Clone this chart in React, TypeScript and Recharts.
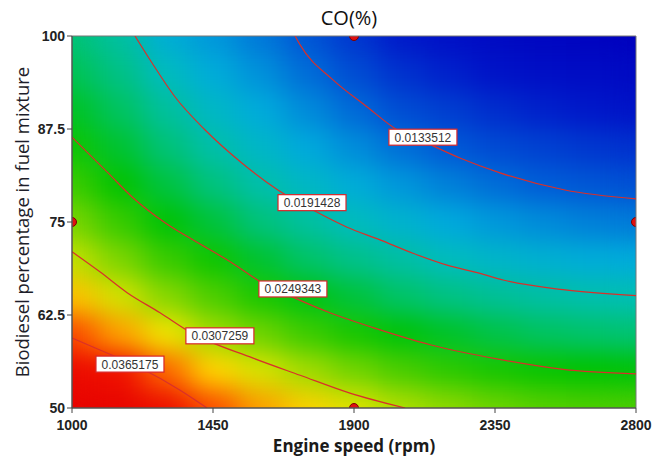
import React from 'react';
import {
  ComposedChart, XAxis, YAxis, Line, ReferenceArea, ReferenceDot,
  useXAxisScale, useYAxisScale,
} from 'recharts';

// grid of the colour map: engine speed (rpm) columns, biodiesel % rows
const speeds = [1000, 1150, 1300, 1450, 1600, 1750, 1900, 2050, 2200, 2350, 2500, 2650, 2800];
const blends = [50, 55, 60, 65, 70, 75, 80, 85, 90, 95, 100];

// CO (%), one row per blend level (bottom to top)
const co50 = [0.0418, 0.0411, 0.0392, 0.0362, 0.0346, 0.0332, 0.0319, 0.0307, 0.0298, 0.0289, 0.0283, 0.0280, 0.0279];
const co55 = [0.0391, 0.0377, 0.0355, 0.0331, 0.0316, 0.0302, 0.0289, 0.0278, 0.0267, 0.0259, 0.0253, 0.0249, 0.0247];
const co60 = [0.0362, 0.0345, 0.0322, 0.0302, 0.0288, 0.0273, 0.0259, 0.0247, 0.0239, 0.0231, 0.0225, 0.0222, 0.0219];
const co65 = [0.0337, 0.0315, 0.0295, 0.0279, 0.0260, 0.0245, 0.0234, 0.0223, 0.0213, 0.0205, 0.0199, 0.0195, 0.0192];
const co70 = [0.0312, 0.0292, 0.0272, 0.0255, 0.0237, 0.0223, 0.0210, 0.0199, 0.0188, 0.0181, 0.0176, 0.0172, 0.0170];
const co75 = [0.0292, 0.0271, 0.0248, 0.0234, 0.0216, 0.0201, 0.0187, 0.0178, 0.0169, 0.0161, 0.0155, 0.0150, 0.0147];
const co80 = [0.0274, 0.0250, 0.0233, 0.0215, 0.0196, 0.0183, 0.0172, 0.0160, 0.0150, 0.0141, 0.0134, 0.0131, 0.0128];
const co85 = [0.0255, 0.0237, 0.0218, 0.0197, 0.0182, 0.0169, 0.0156, 0.0142, 0.0132, 0.0126, 0.0122, 0.0118, 0.0115];
const co90 = [0.0241, 0.0225, 0.0202, 0.0183, 0.0170, 0.0155, 0.0140, 0.0127, 0.0121, 0.0114, 0.0109, 0.0105, 0.0102];
const co95 = [0.0229, 0.0212, 0.0187, 0.0171, 0.0158, 0.0141, 0.0127, 0.0116, 0.0109, 0.0102, 0.0096, 0.0092, 0.0089];
const co100 = [0.0218, 0.0200, 0.0173, 0.0160, 0.0146, 0.0130, 0.0117, 0.0105, 0.0097, 0.0090, 0.0084, 0.0080, 0.0076];
const coRows = [co50, co55, co60, co65, co70, co75, co80, co85, co90, co95, co100];

// contour lines (rpm, %)
const contourA = [{ x: 1000, y: 59.4 }, { x: 1089, y: 57.8 }, { x: 1217, y: 55.4 }, { x: 1345, y: 52.4 }, { x: 1431, y: 50 }];
const contourB = [
  { x: 1000, y: 71.0 }, { x: 1089, y: 68.3 }, { x: 1176, y: 65.5 }, { x: 1281, y: 62.8 }, { x: 1377, y: 60.2 },
  { x: 1578, y: 56.7 }, { x: 1728, y: 54.4 }, { x: 1887, y: 52.0 }, { x: 2063, y: 50 },
];
const contourC = [
  { x: 1000, y: 86.4 }, { x: 1115, y: 81.6 }, { x: 1191, y: 78.4 }, { x: 1297, y: 74.9 }, { x: 1402, y: 72.2 },
  { x: 1511, y: 69.5 }, { x: 1600, y: 67.0 }, { x: 1705, y: 64.9 }, { x: 1823, y: 62.8 }, { x: 1961, y: 60.8 },
  { x: 2143, y: 58.5 }, { x: 2356, y: 56.6 }, { x: 2567, y: 55.2 }, { x: 2800, y: 54.6 },
];
const contourD = [
  { x: 1201, y: 100 }, { x: 1255, y: 96.4 }, { x: 1329, y: 91.8 }, { x: 1424, y: 87.4 }, { x: 1543, y: 82.9 },
  { x: 1657, y: 79.3 }, { x: 1769, y: 76.6 }, { x: 1878, y: 74.3 }, { x: 1983, y: 72.6 }, { x: 2088, y: 70.8 },
  { x: 2197, y: 69.2 }, { x: 2302, y: 68.1 }, { x: 2376, y: 67.2 }, { x: 2567, y: 65.9 }, { x: 2800, y: 65.1 },
];
const contourE = [
  { x: 1712, y: 100 }, { x: 1728, y: 98.8 }, { x: 1833, y: 94.1 }, { x: 1941, y: 90.5 }, { x: 2037, y: 87.4 },
  { x: 2133, y: 85.6 }, { x: 2238, y: 83.6 }, { x: 2366, y: 81.6 }, { x: 2573, y: 79.3 }, { x: 2800, y: 78.1 },
];
const contours = [contourA, contourB, contourC, contourD, contourE];

const contourLabels = [
  { text: '0.0365175', x: 1185, y: 55.9 },
  { text: '0.0307259', x: 1472, y: 59.7 },
  { text: '0.0249343', x: 1705, y: 66.0 },
  { text: '0.0191428', x: 1766, y: 77.6 },
  { text: '0.0133512', x: 2120, y: 86.4 },
];

const designPoints = [{ x: 1000, y: 75 }, { x: 2800, y: 75 }, { x: 1900, y: 100 }, { x: 1900, y: 50 }];

const xTicks = [1000, 1450, 1900, 2350, 2800];
const yTicks = [50, 62.5, 75, 87.5, 100];

const V_MIN = 0.00756;
const V_MAX = 0.04231;

// blue -> cyan -> green -> yellow -> red
const stops: [number, number[]][] = [
  [0, [0, 0, 190]],
  [0.08, [0, 20, 200]],
  [0.17, [0, 95, 215]],
  [0.27, [0, 170, 220]],
  [0.33, [0, 190, 185]],
  [0.42, [0, 195, 110]],
  [0.5, [0, 195, 0]],
  [0.58, [70, 205, 0]],
  [0.667, [180, 222, 0]],
  [0.72, [255, 230, 0]],
  [0.77, [255, 170, 0]],
  [0.82, [250, 75, 0]],
  [0.87, [238, 15, 0]],
  [1, [230, 0, 0]],
];

function colourFor(v: number) {
  const t = Math.max(0, Math.min(1, (v - V_MIN) / (V_MAX - V_MIN)));
  for (let i = 1; i < stops.length; i++) {
    const [t1, c1] = stops[i];
    const [t0, c0] = stops[i - 1];
    if (t <= t1) {
      const f = (t - t0) / (t1 - t0);
      const c = c0.map((a, k) => Math.round(a + (c1[k] - a) * f));
      return `rgb(${c[0]},${c[1]},${c[2]})`;
    }
  }
  return 'rgb(230,0,0)';
}

const cells = blends.flatMap((b, r) =>
  speeds.map((s, c) => ({
    x1: Math.max(speeds[0], s - 75),
    x2: Math.min(speeds[speeds.length - 1], s + 75),
    y1: Math.max(blends[0], b - 2.5),
    y2: Math.min(blends[blends.length - 1], b + 2.5),
    fill: colourFor(coRows[r][c]),
  }))
);

const toPx = (scale: any, v: number) => (typeof scale === 'function' ? scale(v) : scale.map(v));

// colour map cells, smoothed by one filter over the whole layer
function HeatLayer() {
  const xs = useXAxisScale();
  const ys = useYAxisScale();
  if (!xs || !ys) return null;
  return (
    <g filter="url(#heatSmooth)">
      {cells.map((c, i) => {
        const left = toPx(xs, c.x1);
        const right = toPx(xs, c.x2);
        const top = toPx(ys, c.y2);
        const bottom = toPx(ys, c.y1);
        return (
          <rect key={i} x={left} y={top} width={right - left} height={bottom - top} fill={c.fill}
            shapeRendering="crispEdges" />
        );
      })}
    </g>
  );
}

// design points sit on the frame; only the inner half shows
function DesignPoints() {
  const xs = useXAxisScale();
  const ys = useYAxisScale();
  if (!xs || !ys) return null;
  const left = toPx(xs, speeds[0]);
  const right = toPx(xs, speeds[speeds.length - 1]);
  const top = toPx(ys, blends[blends.length - 1]);
  const bottom = toPx(ys, blends[0]);
  return (
    <g>
      <defs>
        <clipPath id="designClip">
          <rect x={left} y={top} width={right - left} height={bottom - top} />
        </clipPath>
      </defs>
      <g clipPath="url(#designClip)">
        {designPoints.map((p, i) => (
          <circle key={i} cx={toPx(xs, p.x)} cy={toPx(ys, p.y)} r={4.5} fill="#e01010" stroke="#7a0000" strokeWidth={1} />
        ))}
      </g>
    </g>
  );
}

const LabelBox = (props: any) => {
  const { cx, cy, text } = props;
  return (
    <g>
      <rect x={cx - 34} y={cy - 8} width={68} height={16} fill="#fff" stroke="#d8262a" strokeWidth={1.2} />
      <text x={cx} y={cy + 4.5} textAnchor="middle" fontSize={12} fill="#333" fontFamily="Liberation Sans, Arial, sans-serif">
        {text}
      </text>
    </g>
  );
};

const xTitle = (props: any) => {
  const { viewBox } = props;
  return (
    <text x={viewBox.x + viewBox.width / 2} y={viewBox.y + 44} textAnchor="middle" fontSize={17} fontWeight={700}
      fill="#1a1a1a" fontFamily="Open Sans, sans-serif">
      Engine speed (rpm)
    </text>
  );
};

const yTitle = (props: any) => {
  const { viewBox } = props;
  const cy = viewBox.y + viewBox.height / 2;
  return (
    <text x={29} y={cy} transform={`rotate(-90, 29, ${cy})`} textAnchor="middle" fontSize={18.5}
      fill="#1e1e2a" fontFamily="Open Sans, sans-serif">
      Biodiesel percentage in fuel mixture
    </text>
  );
};

const tickStyle = { fontSize: 14, fontWeight: 700, fill: '#222', fontFamily: 'Liberation Sans, Arial, sans-serif' };

export default function App() {
  return (
    <div style={{ position: 'relative', width: 665, height: 459, background: '#fff' }}>
      <style>{'body{margin:0}'}</style>
      <svg width={0} height={0} style={{ position: 'absolute' }}>
        <defs>
          <filter id="heatSmooth" colorInterpolationFilters="sRGB">
            <feGaussianBlur in="SourceGraphic" stdDeviation="15 12" result="blur" />
            <feComponentTransfer in="blur" result="solid">
              <feFuncA type="linear" slope={40} />
            </feComponentTransfer>
            <feComponentTransfer in="SourceAlpha" result="mask">
              <feFuncA type="linear" slope={40} />
            </feComponentTransfer>
            <feComposite in="solid" in2="mask" operator="in" />
          </filter>
        </defs>
      </svg>
      <div style={{ position: 'absolute', left: 300, top: 4, width: 98, textAlign: 'center', fontSize: 20,
        fontFamily: 'Open Sans, sans-serif', color: '#111', zIndex: 2 }}>
        CO(%)
      </div>
      <ComposedChart width={665} height={459} margin={{ top: 36, right: 29, bottom: 0, left: 0 }}>
        <XAxis type="number" dataKey="x" domain={[1000, 2800]} ticks={xTicks} allowDataOverflow height={51}
          tick={tickStyle} tickSize={5} tickMargin={7} stroke="#444" label={{ content: xTitle }} />
        <YAxis type="number" dataKey="y" domain={[50, 100]} ticks={yTicks} allowDataOverflow width={72}
          tick={tickStyle} tickSize={5} stroke="#444" label={{ content: yTitle }} />
        <HeatLayer />
        <ReferenceArea x1={1000} x2={2800} y1={50} y2={100} fill="none" stroke="#777" strokeWidth={1} />
        {contours.map((d, i) => (
          <Line key={i} data={d} dataKey="y" type="monotone" stroke="#d9302a" strokeWidth={1.2} dot={false}
            activeDot={false} isAnimationActive={false} />
        ))}
        <DesignPoints />
        {contourLabels.map((l) => (
          <ReferenceDot key={l.text} x={l.x} y={l.y} r={0} shape={(p: any) => <LabelBox {...p} text={l.text} />} />
        ))}
      </ComposedChart>
    </div>
  );
}
